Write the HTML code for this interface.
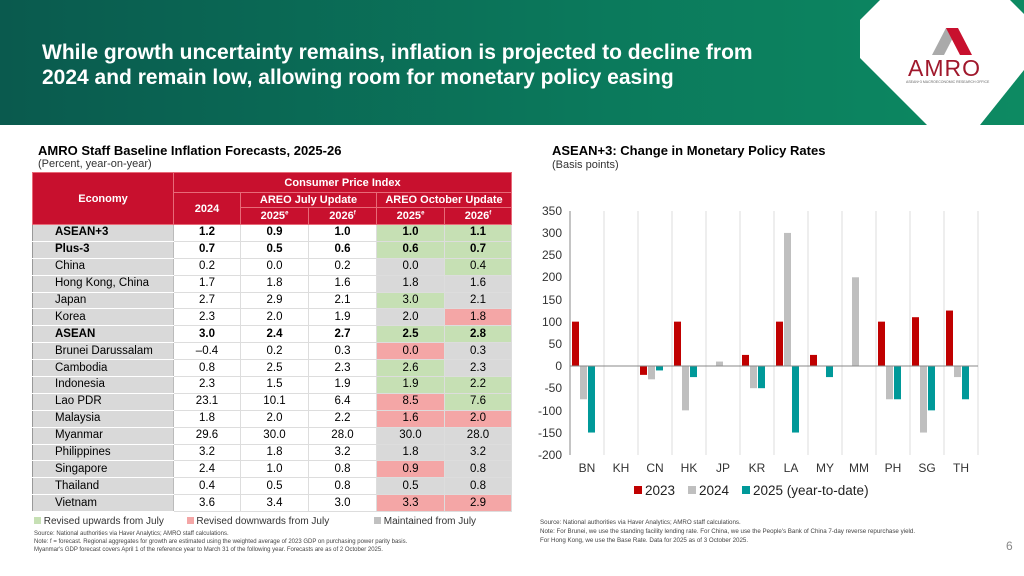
<!DOCTYPE html>
<html><head><meta charset="utf-8"><style>
*{margin:0;padding:0;box-sizing:border-box}
body{width:1024px;height:576px;position:relative;overflow:hidden;background:#fff;font-family:"Liberation Sans",Arial,sans-serif;color:#000}
.hdr{position:absolute;left:0;top:0;width:1024px;height:125px;background:linear-gradient(90deg,#0a5a4e 0%,#0b7a5c 60%,#0d8a62 100%)}
.title{position:absolute;left:42px;top:40px;color:#fff;font-size:21px;font-weight:bold;line-height:25px}
table{position:absolute;left:32px;top:172px;border-collapse:collapse;font-size:11.5px;border:1px solid #999}
td{box-sizing:content-box;height:15.9px;text-align:center;border-bottom:1px solid #ddd;border-right:1px solid #ddd;padding:0;line-height:15px}
th{background:#c8102e;color:#fff;font-weight:bold;font-size:11px;border:1px solid #e86a78;padding:0}
td.e{background:#d9d9d9;text-align:left;padding-left:22px;border-right:1px solid #bbb;border-bottom:1px solid #fff}
.b td{font-weight:bold}
.g{background:#c6e0b4}.r{background:#f4a6a6}.y{background:#d9d9d9}
.small{position:absolute;font-size:6px;color:#444;line-height:8px}
</style></head><body>
<div class="hdr"></div>
<svg style="position:absolute;left:0;top:0" width="1024" height="125">
<polygon points="880,0 1010,0 1024,14 1024,70 980,125 927,125 860,58 860,20" fill="#fff"/>
<polygon points="932,55 946,28 958,28 944,55" fill="#aaa"/>
<polygon points="946,28 958,28 972,55 960,55" fill="#c8102e"/>
<text x="908" y="76" font-size="23" fill="#a0182c" font-family="Liberation Sans" letter-spacing="1">AMRO</text>
<text x="906" y="83" font-size="3.5" fill="#666">ASEAN+3 MACROECONOMIC RESEARCH OFFICE</text>
</svg>
<div class="title">While growth uncertainty remains, inflation is projected to decline from<br>2024 and remain low, allowing room for monetary policy easing</div>
<div style="position:absolute;left:38px;top:143px;font-size:13px;font-weight:bold">AMRO Staff Baseline Inflation Forecasts, 2025-26</div>
<div style="position:absolute;left:38px;top:158px;font-size:11px;color:#333">(Percent, year-on-year)</div>
<table>
<tr><th rowspan="3" style="width:141px;height:52px">Economy</th><th colspan="5" style="height:20px">Consumer Price Index</th></tr>
<tr><th rowspan="2" style="width:67px">2024</th><th colspan="2" style="height:15px">AREO July Update</th><th colspan="2">AREO October Update</th></tr>
<tr><th style="width:68px;height:17px">2025<sup style="font-size:6px">e</sup></th><th style="width:68px">2026<sup style="font-size:6px">f</sup></th><th style="width:68px">2025<sup style="font-size:6px">e</sup></th><th style="width:67px">2026<sup style="font-size:6px">f</sup></th></tr>
<tr class="b"><td class="e">ASEAN+3</td><td>1.2</td><td>0.9</td><td>1.0</td><td class="g">1.0</td><td class="g">1.1</td></tr>
<tr class="b"><td class="e">Plus-3</td><td>0.7</td><td>0.5</td><td>0.6</td><td class="g">0.6</td><td class="g">0.7</td></tr>
<tr><td class="e">China</td><td>0.2</td><td>0.0</td><td>0.2</td><td class="y">0.0</td><td class="g">0.4</td></tr>
<tr><td class="e">Hong Kong, China</td><td>1.7</td><td>1.8</td><td>1.6</td><td class="y">1.8</td><td class="y">1.6</td></tr>
<tr><td class="e">Japan</td><td>2.7</td><td>2.9</td><td>2.1</td><td class="g">3.0</td><td class="y">2.1</td></tr>
<tr><td class="e">Korea</td><td>2.3</td><td>2.0</td><td>1.9</td><td class="y">2.0</td><td class="r">1.8</td></tr>
<tr class="b"><td class="e">ASEAN</td><td>3.0</td><td>2.4</td><td>2.7</td><td class="g">2.5</td><td class="g">2.8</td></tr>
<tr><td class="e">Brunei Darussalam</td><td>–0.4</td><td>0.2</td><td>0.3</td><td class="r">0.0</td><td class="y">0.3</td></tr>
<tr><td class="e">Cambodia</td><td>0.8</td><td>2.5</td><td>2.3</td><td class="g">2.6</td><td class="y">2.3</td></tr>
<tr><td class="e">Indonesia</td><td>2.3</td><td>1.5</td><td>1.9</td><td class="g">1.9</td><td class="g">2.2</td></tr>
<tr><td class="e">Lao PDR</td><td>23.1</td><td>10.1</td><td>6.4</td><td class="r">8.5</td><td class="g">7.6</td></tr>
<tr><td class="e">Malaysia</td><td>1.8</td><td>2.0</td><td>2.2</td><td class="r">1.6</td><td class="r">2.0</td></tr>
<tr><td class="e">Myanmar</td><td>29.6</td><td>30.0</td><td>28.0</td><td class="y">30.0</td><td class="y">28.0</td></tr>
<tr><td class="e">Philippines</td><td>3.2</td><td>1.8</td><td>3.2</td><td class="y">1.8</td><td class="y">3.2</td></tr>
<tr><td class="e">Singapore</td><td>2.4</td><td>1.0</td><td>0.8</td><td class="r">0.9</td><td class="y">0.8</td></tr>
<tr><td class="e">Thailand</td><td>0.4</td><td>0.5</td><td>0.8</td><td class="y">0.5</td><td class="y">0.8</td></tr>
<tr><td class="e">Vietnam</td><td>3.6</td><td>3.4</td><td>3.0</td><td class="r">3.3</td><td class="r">2.9</td></tr>
</table>
<div style="position:absolute;left:34px;top:516px;font-size:10px;color:#333;width:490px">
<span style="display:inline-block;width:7px;height:7px;background:#c6e0b4"></span> Revised upwards from July
<span style="display:inline-block;width:7px;height:7px;background:#f4a6a6;margin-left:20px"></span> Revised downwards from July
<span style="display:inline-block;width:7px;height:7px;background:#c0c0c0;margin-left:42px"></span> Maintained from July</div>
<div class="small" style="left:34px;top:530px;width:490px">Source: National authorities via Haver Analytics; AMRO staff calculations.<br>Note: f = forecast. Regional aggregates for growth are estimated using the weighted average of 2023 GDP on purchasing power parity basis.<br>Myanmar's GDP forecast covers April 1 of the reference year to March 31 of the following year. Forecasts are as of 2 October 2025.</div>
<div style="position:absolute;left:552px;top:143px;font-size:13px;font-weight:bold">ASEAN+3: Change in Monetary Policy Rates</div>
<div style="position:absolute;left:552px;top:159px;font-size:11px;color:#333">(Basis points)</div>
<svg style="position:absolute;left:0;top:0" width="1024" height="576" font-family="Liberation Sans" font-size="12" fill="#333">
<g stroke="#ddd" stroke-width="1">
<line x1="604" y1="211" x2="604" y2="455"/><line x1="638" y1="211" x2="638" y2="455"/><line x1="672" y1="211" x2="672" y2="455"/><line x1="706" y1="211" x2="706" y2="455"/><line x1="740" y1="211" x2="740" y2="455"/><line x1="774" y1="211" x2="774" y2="455"/><line x1="808" y1="211" x2="808" y2="455"/><line x1="842" y1="211" x2="842" y2="455"/><line x1="876" y1="211" x2="876" y2="455"/><line x1="910" y1="211" x2="910" y2="455"/><line x1="944" y1="211" x2="944" y2="455"/><line x1="978" y1="211" x2="978" y2="455"/>
</g>
<g text-anchor="end">
<text x="562" y="215">350</text><text x="562" y="237">300</text><text x="562" y="259">250</text><text x="562" y="281">200</text><text x="562" y="304">150</text><text x="562" y="326">100</text><text x="562" y="348">50</text><text x="562" y="370">0</text><text x="562" y="392">-50</text><text x="562" y="415">-100</text><text x="562" y="437">-150</text><text x="562" y="459">-200</text>
</g>
<g id="bars"></g>
<line x1="570" y1="366" x2="978" y2="366" stroke="#888" stroke-width="1"/>
<line x1="570" y1="211" x2="570" y2="455" stroke="#888" stroke-width="1"/>
<g text-anchor="middle">
<text x="587" y="472">BN</text><text x="621" y="472">KH</text><text x="655" y="472">CN</text><text x="689" y="472">HK</text><text x="723" y="472">JP</text><text x="757" y="472">KR</text><text x="791" y="472">LA</text><text x="825" y="472">MY</text><text x="859" y="472">MM</text><text x="893" y="472">PH</text><text x="927" y="472">SG</text><text x="961" y="472">TH</text>
</g>
<g font-size="13.5" fill="#222">
<rect x="634" y="486" width="8" height="8" fill="#c00000"/><text x="645" y="495">2023</text>
<rect x="688" y="486" width="8" height="8" fill="#bfbfbf"/><text x="699" y="495">2024</text>
<rect x="742" y="486" width="8" height="8" fill="#009999"/><text x="753" y="495">2025 (year-to-date)</text>
</g>
<g font-size="6.2" fill="#444">
<text x="540" y="524">Source: National authorities via Haver Analytics; AMRO staff calculations.</text>
<text x="540" y="533">Note: For Brunei, we use the standing facility lending rate. For China, we use the People's Bank of China 7-day reverse repurchase yield.</text>
<text x="540" y="542">For Hong Kong, we use the Base Rate. Data for 2025 as of 3 October 2025.</text>
</g>
<text x="1006" y="550" font-size="12" fill="#888">6</text>
</svg>
<script>
var d=[[100,-75,-150],[0,0,0],[-20,-30,-10],[100,-100,-25],[0,10,0],[25,-50,-50],[100,300,-150],[25,0,-25],[0,200,0],[100,-75,-75],[110,-150,-100],[125,-25,-75]];
var c=["#c00000","#bfbfbf","#009999"],s="",k=0.4436,z=366;
d.forEach(function(r,i){r.forEach(function(v,j){if(!v)return;var x=572+i*34+j*8,h=Math.abs(v)*k,y=v>0?z-h:z;s+='<rect x="'+x+'" y="'+y+'" width="7" height="'+h+'" fill="'+c[j]+'"/>';});});
document.getElementById("bars").innerHTML=s;
</script>
</body></html>
